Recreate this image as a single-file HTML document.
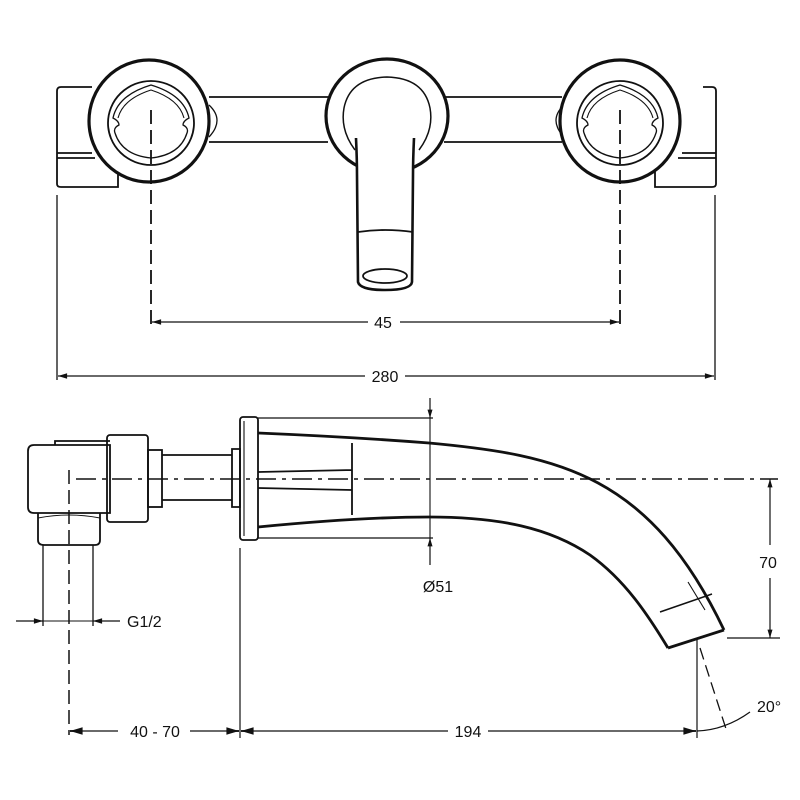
<!DOCTYPE html>
<html><head><meta charset="utf-8"><style>
html,body{margin:0;padding:0;background:#fff}
svg{display:block}
text{font-family:"Liberation Sans",Arial,sans-serif;font-size:16px;fill:#111}
</style></head><body>
<svg width="800" height="800" viewBox="0 0 800 800" xmlns="http://www.w3.org/2000/svg">
<defs>
<marker id="a" viewBox="0 0 10 10" refX="10" refY="5" markerWidth="9" markerHeight="7" orient="auto-start-reverse"><path d="M0,2 L10,5 L0,8 z" fill="#111"/></marker>
</defs>
<g fill="none" stroke="#111" stroke-width="1.8">
<!-- TOP VIEW -->
<path d="M92,87 H61 Q57,87 57,91 V184 Q57,187 61,187 H118 V160"/>
<path d="M57,153 H92 M57,158 H95"/>
<path d="M703,87 H712 Q716,87 716,91 V184 Q716,187 712,187 H655 V160"/>
<path d="M716,153 H682 M716,158 H678"/>
<path d="M209,97 H330 M209,142 H328 M442,97 H562 M444,142 H562"/>
<path d="M209,105 Q225,120 209,137 M564,105 Q548,120 564,137" stroke-width="1.3"/>
<ellipse cx="149" cy="121" rx="60" ry="61" stroke-width="3.2" fill="#fff"/>
<ellipse cx="151" cy="123" rx="43" ry="42"/>
<path d="M113,118 Q118,95 151,85 Q184,95 189,118 Q183,121 183,125 Q189,128 187,133 Q180,155 151,158 Q122,155 115,133 Q113,128 119,125 Q119,121 113,118 Z" stroke-width="1.3"/>
<path d="M118,118 Q123,99 151,90 Q179,99 184,118" stroke-width="1.1"/>
<ellipse cx="620" cy="121" rx="60" ry="61" stroke-width="3.2" fill="#fff"/>
<ellipse cx="620" cy="123" rx="43" ry="42"/>
<path d="M582,118 Q587,95 620,85 Q653,95 658,118 Q652,121 652,125 Q658,128 656,133 Q649,155 620,158 Q591,155 584,133 Q582,128 588,125 Q588,121 582,118 Z" stroke-width="1.3"/>
<path d="M587,118 Q592,99 620,90 Q648,99 653,118" stroke-width="1.1"/>
<ellipse cx="387" cy="116" rx="61" ry="57" stroke-width="3.2" fill="#fff"/>
<path d="M355,150 Q340,130 344,108 Q350,78 387,77 Q424,78 430,108 Q434,130 419,150" stroke-width="1.5"/>
<path d="M356,138 Q357,160 357,175 L358,282 Q360,290 385,290 Q411,290 412,282 L413,175 Q413,160 414,138" stroke-width="2.6" fill="#fff"/>
<path d="M358,232 Q385,228 413,232" stroke-width="1.8"/>
<ellipse cx="385" cy="276" rx="22" ry="7" stroke-width="1.8"/>
<path d="M151,110 V330 M620,110 V330" stroke-dasharray="14,6"/>
<path d="M57,195 V380 M715,195 V380" stroke-width="1.3"/>
<path d="M152,322 H368 M400,322 H619" stroke-width="1.3" marker-start="url(#a)" marker-end="url(#a)"/>
<path d="M58,376 H365 M405,376 H714" stroke-width="1.3" marker-start="url(#a)" marker-end="url(#a)"/>

<!-- SIDE VIEW -->
<path d="M28,451 Q28,445 34,445 H110 V513 H34 Q28,513 28,507 Z"/>
<path d="M55,445 V441 H110"/>
<path d="M38,513 V540 Q38,545 44,545 H95 Q100,545 100,540 V513"/>
<path d="M38,518 Q69,512 100,518" stroke-width="1.1"/>
<rect x="107" y="435" width="41" height="87" rx="3"/>
<rect x="148" y="450" width="14" height="57"/>
<path d="M162,455 H232 M162,500 H232 M232,449 V507 H240 V449 Z"/>
<rect x="240" y="417" width="18" height="123" rx="3"/>
<path d="M244,421 V536" stroke-width="1.1"/>
<path d="M258,433 C330,436 390,440 429,443 C560,455 650,475 724,630" stroke-width="2.8"/>
<path d="M258,527 C330,520 390,517 429,517 C500,517 550,528 590,555 C625,580 648,615 668,648" stroke-width="2.8"/>
<path d="M668,648 L724,630" stroke-width="2.8"/>
<path d="M660,612 L712,594" stroke-width="1.5"/>
<path d="M352,443 V515 M258,472 L352,470 M258,488 L352,490"/>
<path d="M258,418 H433 M258,538 H433" stroke-width="1.2"/>
<path d="M430,398 V418" stroke-width="1.2" marker-end="url(#a)"/>
<path d="M430,565 V538" stroke-width="1.2" marker-end="url(#a)"/>
<path d="M430,418 V538" stroke-width="1.1"/>
<path d="M76,479 H778" stroke-dasharray="20,6,4,6" stroke-width="1.5"/>
<path d="M69,470 V735" stroke-dasharray="14,6" stroke-width="1.5"/>
<path d="M688,582 L705,610" stroke-width="1.1"/>
<path d="M43,545 V626 M93,545 V626" stroke-width="1.3"/>
<path d="M16,621 H43" stroke-width="1.3" marker-end="url(#a)"/>
<path d="M120,621 H93" stroke-width="1.3" marker-end="url(#a)"/>
<path d="M43,621 H93" stroke-width="1.1"/>
<path d="M727,638 H780" stroke-width="1.2"/>
<path d="M770,545 V479" stroke-width="1.2" marker-end="url(#a)"/>
<path d="M770,578 V638" stroke-width="1.2" marker-end="url(#a)"/>
<path d="M240,548 V738 M697,640 V738" stroke-width="1.2"/>
<path d="M700,648 L727,732" stroke-dasharray="12,6" stroke-width="1.3"/>
<path d="M70,731 H118 M190,731 H239" stroke-width="1.3"/>
<path d="M70,731 H75" marker-start="url(#a)"/>
<path d="M230,731 H239" marker-end="url(#a)"/>
<path d="M241,731 H448 M488,731 H696" stroke-width="1.3"/>
<path d="M241,731 H250" marker-start="url(#a)"/>
<path d="M686,731 H696" marker-end="url(#a)"/>
<path d="M697,731 Q725,730 750,712" stroke-width="1.2"/>
</g>
<text x="383" y="328" text-anchor="middle">45</text>
<text x="385" y="382" text-anchor="middle">280</text>
<text x="438" y="592" text-anchor="middle">Ø51</text>
<text x="768" y="568" text-anchor="middle">70</text>
<text x="127" y="627">G1/2</text>
<text x="155" y="737" text-anchor="middle">40 - 70</text>
<text x="468" y="737" text-anchor="middle">194</text>
<text x="757" y="712">20°</text>
</svg>
</body></html>
